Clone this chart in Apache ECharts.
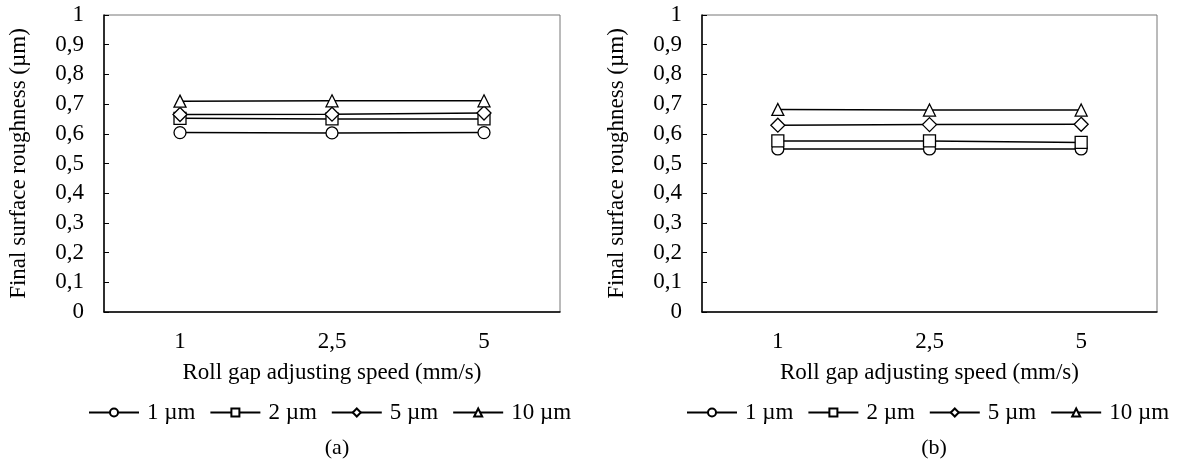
<!DOCTYPE html>
<html>
<head>
<meta charset="utf-8">
<script src="https://cdn.jsdelivr.net/npm/echarts@6/dist/echarts.min.js"></script>
<style>
  html, body { margin: 0; padding: 0; background: #fff; }
  #chart { width: 1178px; height: 465px; }
</style>
</head>
<body>
<div id="chart"></div>
<script>
// roll gap adjusting speed (mm/s)
const speeds = ['1', '2,5', '5']
const seriesNames = ['1 µm', '2 µm', '5 µm', '10 µm']
const symbols = ['circle', 'rect', 'diamond', 'triangle']
const yTicks = ['0', '0,1', '0,2', '0,3', '0,4', '0,5', '0,6', '0,7', '0,8', '0,9', '1']

// (a)
const rough1a = [0.604, 0.603, 0.604]
const rough2a = [0.652, 0.650, 0.650]
const rough5a = [0.665, 0.666, 0.670]
const rough10a = [0.710, 0.711, 0.711]
// (b)
const rough1b = [0.549, 0.549, 0.549]
const rough2b = [0.576, 0.576, 0.571]
const rough5b = [0.629, 0.631, 0.632]
const rough10b = [0.682, 0.680, 0.680]

const font = 'Liberation Serif'
const fs = 23

const chart = echarts.init(document.getElementById('chart'), null, { renderer: 'canvas' })

const makeX = (gi) => ({
  type: 'category',
  gridIndex: gi,
  data: speeds,
  name: 'Roll gap adjusting speed (mm/s)',
  nameLocation: 'middle',
  nameGap: 49,
  nameTextStyle: { fontFamily: font, fontSize: fs, color: '#000' },
  axisLine: { lineStyle: { color: '#000', width: 1.5 } },
  axisTick: { inside: true, alignWithLabel: true, length: 5, lineStyle: { color: '#000' } },
  axisLabel: { fontFamily: font, fontSize: fs, color: '#000', margin: 18 },
  splitLine: { show: false }
})

const makeY = (gi) => ({
  type: 'value',
  gridIndex: gi,
  min: 0,
  max: 1,
  interval: 0.1,
  name: 'Final surface roughness (µm)',
  nameLocation: 'middle',
  nameGap: 74,
  nameTextStyle: { fontFamily: font, fontSize: fs, color: '#000' },
  axisLine: { show: true, lineStyle: { color: '#000', width: 1.5 } },
  axisTick: { show: true, inside: true, length: 5, lineStyle: { color: '#000' } },
  axisLabel: {
    fontFamily: font, fontSize: fs, color: '#000', margin: 20,
    formatter: (v) => yTicks[Math.round(v * 10)]
  },
  splitLine: { show: false }
})

const makeSeries = (gi, arrs) => arrs.map((d, i) => ({
  name: seriesNames[i],
  type: 'line',
  xAxisIndex: gi,
  yAxisIndex: gi,
  data: d,
  symbol: symbols[i],
  symbolSize: symbols[i] === 'diamond' ? 14 : 12,
  lineStyle: { color: '#000', width: 1.5 },
  itemStyle: { color: '#fff', borderColor: '#000', borderWidth: 1.3 },
  emphasis: { disabled: true },
  animation: false
}))

const makeLegend = (left) => ({
  data: seriesNames,
  top: 401,
  left: left,
  width: 520,
  padding: 0,
  itemWidth: 50,
  itemHeight: 10,
  itemGap: 14,
  textStyle: { fontFamily: font, fontSize: fs, color: '#000', padding: [0, 0, 0, 3] }
})

const capStyle = { fontFamily: font, fontSize: 22, fontWeight: 'normal', color: '#000' }

const option = {
  backgroundColor: '#fff',
  grid: [
    { left: 104, right: 618, top: 15, bottom: 153, show: true, borderColor: '#777', borderWidth: 1 },
    { left: 702, right: 21, top: 15, bottom: 153, show: true, borderColor: '#777', borderWidth: 1 }
  ],
  xAxis: [makeX(0), makeX(1)],
  yAxis: [makeY(0), makeY(1)],
  legend: [makeLegend(88), makeLegend(686)],
  title: [
    { text: '(a)', left: 332, top: 432, textAlign: 'center', textStyle: capStyle },
    { text: '(b)', left: 929, top: 432, textAlign: 'center', textStyle: capStyle }
  ],
  series: [
    ...makeSeries(0, [rough1a, rough2a, rough5a, rough10a]),
    ...makeSeries(1, [rough1b, rough2b, rough5b, rough10b])
  ]
}

chart.setOption(option)
</script>
</body>
</html>
